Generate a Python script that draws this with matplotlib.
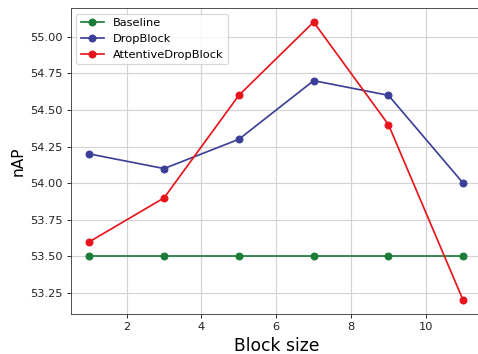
import numpy as np
import matplotlib
matplotlib.use('Agg')
import matplotlib.pyplot as plt

block_size = [1, 3, 5, 7, 9, 11]
baseline = [53.5, 53.5, 53.5, 53.5, 53.5, 53.5]
dropblock = [54.2, 54.1, 54.3, 54.7, 54.6, 54.0]
attentive = [53.6, 53.9, 54.6, 55.1, 54.4, 53.2]

# original looks like a default-styled figure scaled down, so draw at dpi 82
fig = plt.figure(figsize=(478 / 82, 354 / 82), dpi=82)
ax = fig.add_axes([0.1477, 0.112, 0.8605, 0.865])

ax.plot(block_size, baseline, marker='o', color='#1b7d38', label='Baseline')
ax.plot(block_size, dropblock, marker='o', color='#3c3f98', label='DropBlock')
ax.plot(block_size, attentive, marker='o', color='#e8141c', label='AttentiveDropBlock')

ax.set_xticks([2, 4, 6, 8, 10])
ax.yaxis.set_major_formatter(matplotlib.ticker.FormatStrFormatter('%.2f'))
ax.tick_params(labelsize=10, colors='#222222')
ax.grid(True, color='#d3d3d3', lw=1)
for s in ax.spines.values():
    s.set_color('#444444')

ax.set_xlabel('Block size', fontsize=15)
ax.set_ylabel('nAP', fontsize=13.5)
ax.legend(loc='upper left', fontsize=10)

fig.savefig('out.png', dpi=82)
